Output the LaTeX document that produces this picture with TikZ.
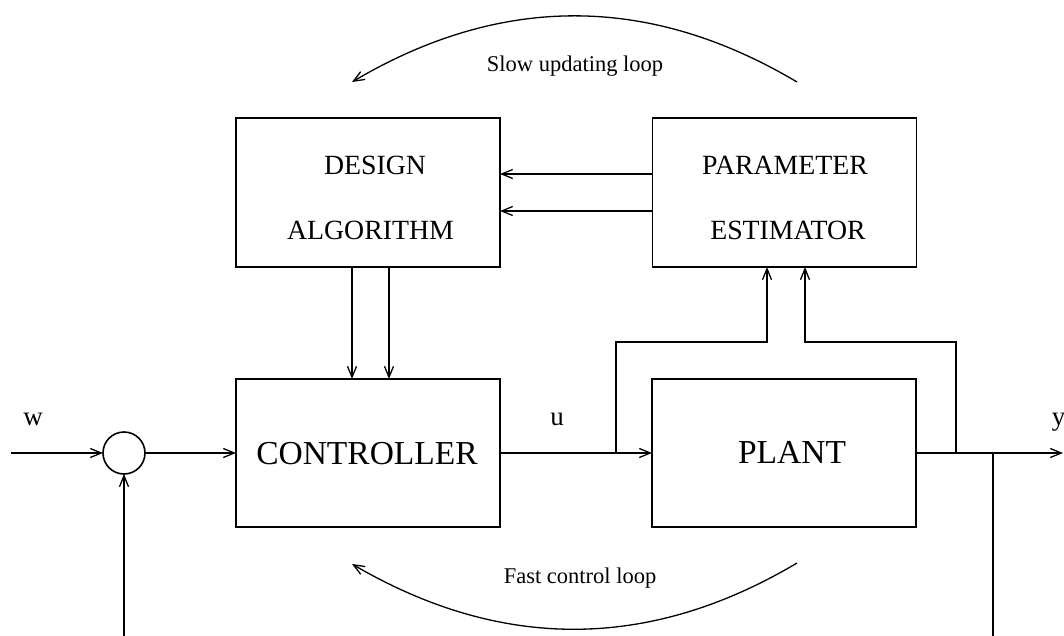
\documentclass[tikz,border=0pt]{standalone}
\usepackage{fontspec}
\setmainfont{Liberation Serif}
\usetikzlibrary{arrows.meta,calc}
\begin{document}
\begin{tikzpicture}[x=1pt,y=-1pt,
  line width=1.5pt,
  blk/.style={draw, line width=1.7pt, minimum width=264pt, minimum height=149pt, inner sep=0pt, outer sep=0pt},
  sumnode/.style={draw, circle, minimum size=42pt, inner sep=0pt, outer sep=0pt, line width=1.6pt},
  arr/.style={-{Straight Barb[length=11pt,width=9pt,line width=1.3pt]}},
  btxt/.style={font=\fontsize{27.8}{30}\selectfont, anchor=base, inner sep=0pt},
  bigtxt/.style={font=\fontsize{33.5}{36}\selectfont, anchor=base, inner sep=0pt},
  lbl/.style={font=\fontsize{22.5}{26}\selectfont, anchor=base, inner sep=0pt},
  sig/.style={font=\fontsize{27}{30}\selectfont, anchor=base, inner sep=0pt},
  looparc/.style={line width=1.3pt}]
\useasboundingbox[fill=white] (0,0) rectangle (1064,636);

% blocks
\node[blk] (design) at (368,192.5) {};
\node[blk] (param) at (784.5,192.5) {};
\node[blk, minimum height=148pt] (ctrl) at (368,453) {};
\node[blk, minimum height=148pt] (plant) at (784,453) {};
\node[sumnode] (sum) at (124,453) {};

% texts
\node[btxt] (tdesign) at (375,175) {DESIGN};
\node[btxt] (talgo) at (370.5,240) {ALGORITHM};
\node[btxt] (tparam) at (785,175) {PARAMETER};
\node[btxt] (testim) at (788,240) {ESTIMATOR};
\node[bigtxt] (tctrl) at (367,464) {CONTROLLER};
\node[bigtxt] (tplant) at (792,463) {PLANT};
\node[sig] (w) at (33,425) {w};
\node[sig] (u) at (557,425) {u};
\node[sig, anchor=base west] (y) at (1051,425) {y};
\node[lbl] (slow) at (575,72) {Slow updating loop};
\node[lbl] (fast) at (580,583) {Fast control loop};

% helper coordinates
\coordinate (in) at (11,453);
\coordinate (out) at (1063,453);
\coordinate (bu) at (616,453);
\coordinate (by) at (956,453);
\coordinate (fb) at (993,453);
\coordinate (fbend) at (993,636);
\coordinate (fbin) at (124,636);
\coordinate (hu) at (0,342);
\coordinate (pa) at (767,0);
\coordinate (pb) at (805,0);
\coordinate (da) at (352,0);
\coordinate (db) at (389,0);
\coordinate (ha) at (0,174);
\coordinate (hb) at (0,211);
\coordinate (s1) at (797,82);
\coordinate (s2) at (352,82);
\coordinate (f1) at (797,563);
\coordinate (f2) at (352,564);

% main loop
\draw[arr] (in) -- (sum.west);
\draw[arr] (sum.east) -- (ctrl.west);
\draw[arr] (ctrl.east) -- (plant.west);
\draw[arr] (plant.east) -- (out);
\draw (fb) -- (fbend);
\draw[arr] (fbin) -- (sum.south);

% to estimator
\draw[arr] (bu) |- (pa |- hu) -- (pa |- param.south);
\draw[arr] (by) |- (pb |- hu) -- (pb |- param.south);

% estimator to design
\draw[arr] (param.west |- ha) -- (design.east |- ha);
\draw[arr] (param.west |- hb) -- (design.east |- hb);

% design to controller
\draw[arr] (da |- design.south) -- (da |- ctrl.north);
\draw[arr] (db |- design.south) -- (db |- ctrl.north);

% loop arcs
\draw[arr, looparc] (s1) .. controls (649,-6) and (501,-6) .. (s2);
\draw[arr, looparc] (f1) .. controls (649,651) and (501,651) .. (f2);
\end{tikzpicture}
\end{document}
